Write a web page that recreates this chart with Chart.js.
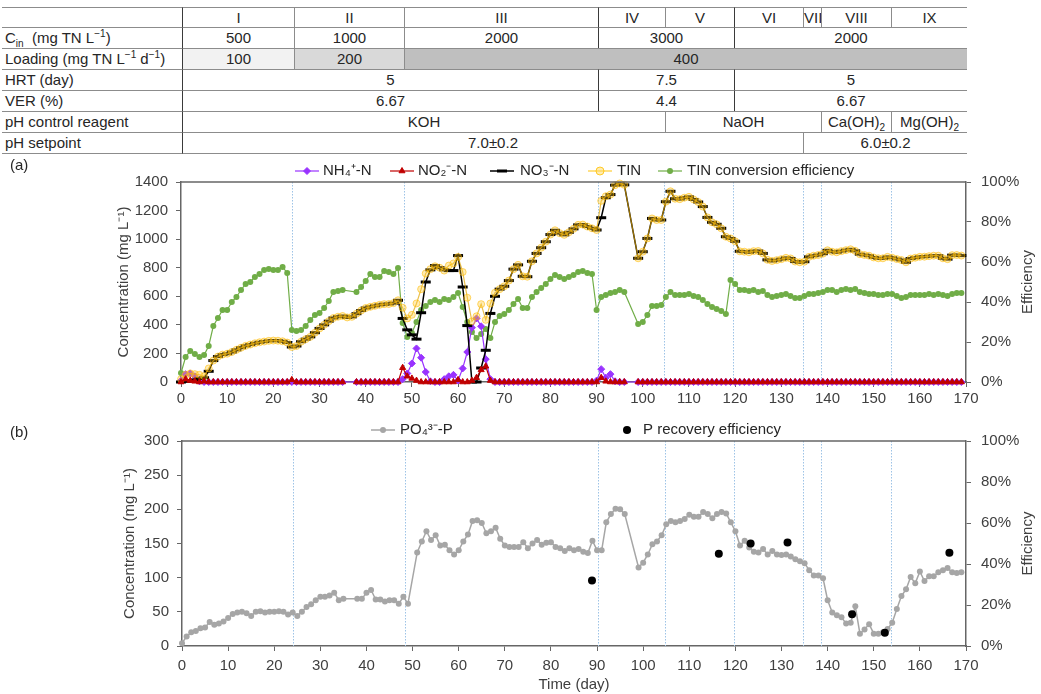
<!DOCTYPE html>
<html>
<head>
<meta charset="utf-8">
<script src="https://cdn.jsdelivr.net/npm/chart.js@4.4.1/dist/chart.umd.min.js"></script>
<style>
  body { margin: 0; width: 1041px; height: 694px; background: #fff; position: relative; overflow: hidden;
         font-family: "Liberation Sans", Arial, sans-serif; color: #262626; }
  .cell { position: absolute; box-sizing: border-box; font-size: 15px; text-align: center; white-space: nowrap;
          border-top: 1px solid #8c8c8c; }
  .cell sub, .cell sup { font-size: 10px; line-height: 0; }
  .lbl { text-align: left; padding-left: 3px; }
  canvas { position: absolute; left: 0; }
  #chartA { top: 160px; }
  #chartB { top: 415px; }
  .tag { position: absolute; left: 10px; font-size: 15px; line-height: 17px; }
</style>
</head>
<body>
<div id="table"></div>
<canvas id="chartA" width="1041" height="250"></canvas>
<canvas id="chartB" width="1041" height="279"></canvas>
<div class="tag" style="top:156px">(a)</div>
<div class="tag" style="top:423px">(b)</div>
<script>
// ---- table ----
const colX = [2, 182, 294, 404, 598, 665, 734, 803, 821, 891, 967];
const rowTop = [7, 27, 48, 69, 90, 111, 132, 153];
const rowLabels = ['', 'C<sub>in</sub>&nbsp; (mg TN L<sup>\u22121</sup>)', 'Loading (mg TN L<sup>\u22121</sup> d<sup>\u22121</sup>)',
                   'HRT (day)', 'VER (%)', 'pH control reagent', 'pH setpoint'];
const phaseNames = ['I', 'II', 'III', 'IV', 'V', 'VI', 'VII', 'VIII', 'IX'];
// [row, first column, end column, text, background]
const tableCells = [
  [1, 1, 2, '500'], [1, 2, 3, '1000'], [1, 3, 4, '2000'], [1, 4, 6, '3000'], [1, 6, 10, '2000'],
  [2, 1, 2, '100', '#f2f2f2'], [2, 2, 3, '200', '#d9d9d9'], [2, 3, 10, '400', '#bfbfbf'],
  [3, 1, 4, '5'], [3, 4, 6, '7.5'], [3, 6, 10, '5'],
  [4, 1, 4, '6.67'], [4, 4, 6, '4.4'], [4, 6, 10, '6.67'],
  [5, 1, 5, 'KOH'], [5, 5, 8, 'NaOH'], [5, 8, 9, 'Ca(OH)<sub>2</sub>'], [5, 9, 10, 'Mg(OH)<sub>2</sub>'],
  [6, 1, 7, '7.0\u00b10.2'], [6, 7, 10, '6.0\u00b10.2']
];
phaseNames.forEach((p, i) => tableCells.push([0, i + 1, i + 2, p]));
rowLabels.forEach((t, r) => tableCells.push([r, 0, 1, t]));

const table = document.getElementById('table');
tableCells.forEach(([r, c0, c1, html, bg]) => {
  const d = document.createElement('div');
  d.className = 'cell' + (c0 === 0 ? ' lbl' : '');
  const h = rowTop[r + 1] - rowTop[r];
  d.style.left = colX[c0] + 'px';
  d.style.top = rowTop[r] + 'px';
  d.style.width = (colX[c1] - colX[c0]) + 'px';
  d.style.height = (h + (r === 6 ? 1 : 0)) + 'px';
  d.style.lineHeight = (h - 1) + 'px';
  if (r === 6) d.style.borderBottom = '1px solid #8c8c8c';
  if (c0 > 0) {
    const dark = c0 === 1 || (r <= 4 && (colX[c0] === 598 || colX[c0] === 734));
    d.style.borderLeft = dark ? '1.5px solid #3a3a3a' : '1px solid #8c8c8c';
  }
  if (bg) d.style.background = bg;
  d.innerHTML = html;
  table.appendChild(d);
});

// ---- data ----
// panel (a): one value per day, index = day
const nh4 = [
  10, 55, 60, 40, 5, 0, 0, 0, 0, 0,
  0, 0, 0, 0, 0, 0, 0, 0, 0, 0,
  0, 0, 0, 0, 0, 0, 0, 0, 0, 0,
  0, 0, 0, 0, 0, 0, null, null, 0, 0,
  0, 0, 0, 0, 0, 0, 0, 0, 20, 60,
  130, 235, 170, 70, 5, 0, 0, 20, 40, 50,
  10, 95, 210, 380, 445, 390, 160, 20, 0, 0,
  0, 0, 0, 0, 0, 0, 0, 0, 0, 0,
  0, 0, 0, 0, 0, 0, 0, 0, 0, 0,
  10, 90, 30, 55, 5, 0, 0, null, null, 0,
  0, 0, 0, 0, 0, 0, 0, 0, 0, 0,
  0, 0, 0, 0, 0, 0, 0, 0, 0, 0,
  0, 0, 0, 0, 0, 0, 0, 0, 0, 0,
  0, 0, 0, 0, 0, 0, 0, 0, 0, 0,
  0, 0, 0, 0, 0, 0, 0, 0, 0, 0,
  0, 0, 0, 0, 0, 0, 0, 0, 0, 0,
  0, 0, 0, 0, 0, 0, 0, 0, 0, 0
];
const no2 = [
  0, 20, 10, 5, 0, 5, 0, 0, 0, 0,
  0, 0, 0, 0, 0, 0, 0, 0, 0, 0,
  0, 0, 0, 0, 15, 0, 0, 0, 0, 0,
  0, 0, 0, 0, 0, 0, null, null, 0, 0,
  0, 0, 0, 0, 0, 0, 0, 0, 100, 40,
  25, 10, 0, 0, 0, 0, 0, 0, 0, 0,
  15, 0, 0, 10, 30, 85, 110, 10, 0, 0,
  0, 0, 0, 0, 0, 0, 0, 0, 0, 0,
  0, 0, 0, 0, 0, 0, 0, 0, 0, 0,
  0, 30, 5, 0, 0, 0, 0, null, null, 0,
  0, 0, 0, 0, 0, 0, 0, 0, 0, 0,
  0, 0, 0, 0, 0, 0, 0, 0, 0, 0,
  0, 0, 0, 0, 0, 0, 0, 0, 0, 0,
  0, 0, 0, 0, 0, 0, 0, 0, 0, 0,
  0, 0, 0, 0, 0, 0, 0, 0, 0, 0,
  0, 0, 0, 0, 0, 0, 0, 0, 0, 0,
  0, 0, 0, 0, 0, 0, 0, 0, 0, 0
];
const no3 = [
  0, 5, 8, 15, 25, 30, 75, 150, 178, 192,
  198, 210, 225, 240, 253, 262, 271, 278, 283, 288,
  290, 289, 285, 276, 245, 252, 282, 300, 316, 345,
  375, 400, 426, 448, 457, 462, 452, 456, 478, 500,
  518, 526, 533, 540, 545, 546, 552, 572, 445, 365,
  330, 300, 485, 700, 785, 815, 800, 785, 780, 780,
  885, 665, 395, 0, 0, 98, 222, 480, 600, 650,
  670, 710, 790, 820, 740, 737, 845, 900, 940, 982,
  1032, 1062, 1042, 1030, 1048, 1072, 1100, 1102, 1088, 1076,
  1064, 1150, 1290, 1312, 1378, 1390, 1380, null, null, 866,
  912, 1005, 1145, 1134, 1134, 1262, 1335, 1283, 1280, 1290,
  1296, 1278, 1260, 1228, 1152, 1118, 1104, 1076, 1017, 1005,
  985, 915, 912, 908, 916, 917, 900, 855, 847, 853,
  860, 869, 865, 843, 838, 842, 876, 884, 889, 898,
  922, 912, 908, 916, 923, 929, 918, 895, 889, 884,
  872, 866, 866, 876, 870, 861, 854, 838, 864, 870,
  876, 877, 881, 884, 884, 866, 860, 888, 889, 885
];
const tin = [
  20, 50, 60, 55, 50, 40, 95, 150, 178, 192,
  198, 210, 225, 240, 253, 262, 271, 278, 283, 288,
  290, 289, 285, 276, 245, 252, 282, 300, 316, 345,
  375, 400, 426, 448, 457, 462, 452, 456, 478, 500,
  518, 526, 533, 540, 545, 546, 552, 572, 520, 445,
  470, 550, 650, 760, 790, 810, 800, 780, 815, 830,
  875, 770, 590, 425, 460, 545, 435, 550, 625, 650,
  670, 710, 790, 820, 740, 737, 845, 900, 940, 982,
  1032, 1062, 1042, 1030, 1048, 1072, 1100, 1102, 1088, 1076,
  1064, 1268, 1300, 1312, 1378, 1390, 1380, null, null, 866,
  912, 1005, 1145, 1134, 1134, 1262, 1335, 1283, 1280, 1290,
  1296, 1278, 1260, 1228, 1152, 1118, 1104, 1076, 1017, 1005,
  985, 915, 912, 908, 916, 917, 900, 855, 847, 853,
  860, 869, 865, 843, 838, 842, 876, 884, 889, 898,
  922, 912, 908, 916, 923, 929, 918, 895, 889, 884,
  872, 866, 866, 876, 870, 861, 854, 838, 864, 870,
  876, 877, 881, 884, 884, 866, 860, 888, 889, 885
];
// TIN conversion efficiency, %
const tinEff = [
  4.5, 12.5, 15.5, 14, 12.5, 13.5, 18, 28, 32, 36,
  36, 40, 42.5, 46, 49, 50, 52.5, 54, 56, 56.5,
  56, 56, 57.5, 54.5, 26, 25.5, 26, 28, 31, 33.5,
  34.5, 37, 40.5, 45, 45.5, 46, null, null, 45, 47.5,
  50.5, 54, 52.5, 52.5, 55.5, 55, 54, 57, 29.5, 22.5,
  24.5, 30, 36, 38, 40, 41, 40, 41.5, 41, 42.5,
  44.5, 37.5, 30, 25, 22, 24, 26.5, 22, 30, 33,
  34, 36, 39, 41.5, 37, 37, 42.5, 45, 47, 49,
  51.5, 53.5, 52.5, 51.5, 52.5, 53.5, 55, 55.5, 54.5, 54,
  36, 42.5, 43.5, 44.5, 45, 46, 45, null, null, 29,
  30, 33.5, 38, 38, 38.5, 42.5, 45, 43.5, 43.5, 43.5,
  44, 43, 42.5, 41, 39, 37.5, 36.5, 35.5, 34, 51,
  49, 46, 46, 45.5, 46, 45, 45.5, 43.5, 42.5, 43,
  43.5, 44, 43, 42, 42, 43, 44, 44, 44.5, 45,
  46, 46, 45, 46, 46.5, 46, 46.5, 45, 44.5, 44,
  44, 43.5, 43.5, 44, 44, 43, 42, 42.5, 43.5, 43.5,
  43.5, 43.5, 44, 43.5, 44, 43.5, 43, 44, 44.5, 44.5
];
// panel (b)
const po4 = [
  4, 14, 20, 22, 26, 27, 35, 31, 33, 36,
  41, 47, 49, 50, 48, 44, 50, 51, 49, 50,
  50, 51, 50, 46, 49, 44, 50, 57, 61, 67,
  72, 72, 74, 78, 67, 69, null, null, 69, 69,
  78, 82, 68, 68, 65, 67, 67, 62, 72, 62,
  null, 137, 153, 168, 155, 162, 147, 148, 140, 134,
  140, 153, 163, 183, 184, 180, 165, 168, 173, 157,
  147, 145, 145, 145, 152, 143, 150, 155, 148, 151,
  152, 145, 143, 139, 143, 140, 142, 138, 136, 154,
  140, 140, 181, 193, 201, 200, 193, null, null, 115,
  122, 134, 149, 153, 162, 178, 183, 181, 183, 186,
  192, 189, 189, 196, 193, 187, 193, 196, 194, 181,
  168, 147, 154, 144, 138, 137, 142, 134, 139, 134,
  133, 134, 131, 127, 124, 121, 111, 103, 103, 99,
  67, 49, 45, 42, 33, 34, 58, 18, 24, 32,
  18, 18, 20, 25, 34, 54, 73, 83, 101, 92,
  109, 95, 102, 102, 108, 111, 114, 108, 107, 108
];
const pRecDays = [88.9, 116.4, 123.3, 131.3, 145.3, 152.4, 166.4];
const pRecEff = [32, 45, 50, 50.5, 15.5, 6.5, 45.5];

// day boundaries of the operating phases
const phaseDays = [24.1, 48.3, 90.2, 104.7, 119.6, 134.6, 138.6, 153.7];

// ---- chart helpers ----
const FONT = '"Liberation Sans", Arial, sans-serif';
Chart.defaults.font.family = FONT;
Chart.defaults.font.size = 15;
Chart.defaults.color = '#404040';

const toXY = arr => arr.map((v, i) => ({ x: i, y: v }));

const phaseLines = {
  id: 'phaseLines',
  beforeDatasetsDraw(chart) {
    const { ctx, chartArea: a, scales: { x } } = chart;
    ctx.save();
    ctx.strokeStyle = '#9dc3e6';
    ctx.lineWidth = 1;
    ctx.setLineDash([1.5, 1.5]);
    phaseDays.forEach(d => {
      const px = Math.round(x.getPixelForValue(d)) + 0.5;
      ctx.beginPath();
      ctx.moveTo(px, a.top);
      ctx.lineTo(px, a.bottom);
      ctx.stroke();
    });
    ctx.restore();
  },
  afterDraw(chart) {
    const { ctx, chartArea: a } = chart;
    ctx.save();
    ctx.strokeStyle = '#666';
    ctx.lineWidth = 1.5;
    ctx.beginPath();
    ctx.moveTo(a.left, a.top);
    ctx.lineTo(a.right, a.top);
    ctx.stroke();
    // right axis title, reads bottom to top
    ctx.translate(1028, (a.top + a.bottom) / 2);
    ctx.rotate(-Math.PI / 2);
    ctx.font = '15px ' + FONT;
    ctx.fillStyle = '#404040';
    ctx.textAlign = 'center';
    ctx.textBaseline = 'middle';
    ctx.fillText('Efficiency', 0, 0);
    ctx.restore();
  }
};

const legendAt = {
  id: 'legendAt',
  afterDraw(chart, args, opts) {
    const ctx = chart.ctx;
    ctx.save();
    ctx.font = '15px ' + FONT;
    ctx.textBaseline = 'middle';
    opts.items.forEach(it => {
      if (it.line) {
        ctx.strokeStyle = it.line;
        ctx.lineWidth = it.lw || 1.2;
        ctx.beginPath();
        ctx.moveTo(it.x - 12, it.y);
        ctx.lineTo(it.x + 12, it.y);
        ctx.stroke();
      }
      ctx.fillStyle = it.fill;
      ctx.strokeStyle = it.stroke;
      ctx.lineWidth = it.bw;
      Chart.helpers.drawPoint(ctx, { pointStyle: it.style, radius: it.r, borderWidth: it.bw, rotation: 0 }, it.x, it.y);
      ctx.fillStyle = '#262626';
      ctx.fillText(it.text, it.tx, it.y);
    });
    ctx.restore();
  }
};

function baseScales(yMax, yStep, yWidth, yTitlePad, xHeight, xPad, xTitle) {
  const axisLine = { display: true, color: '#666', width: 1.5 };
  const ticksOut = { display: true, drawOnChartArea: false, drawTicks: true, tickLength: 5, color: '#666' };
  return {
    x: {
      type: 'linear', min: 0, max: 170,
      ticks: { stepSize: 10, padding: xPad, callback: v => String(v) },
      border: axisLine, grid: ticksOut,
      title: xTitle ? { display: true, text: xTitle, color: '#404040', padding: { top: 0, bottom: 0 } } : { display: false },
      afterFit: s => { s.height = xHeight; }
    },
    y: {
      position: 'left', min: 0, max: yMax,
      ticks: { stepSize: yStep, padding: 8, callback: v => String(v) },
      border: axisLine, grid: ticksOut,
      title: { display: true, text: 'Concentration (mg L\u207B\u00B9)', color: '#404040', padding: { top: yTitlePad, bottom: 0 } },
      afterFit: s => { s.width = yWidth; }
    },
    y1: {
      position: 'right', min: 0, max: 100,
      ticks: { stepSize: 20, padding: 10, callback: v => v + '%' },
      border: axisLine, grid: ticksOut,
      afterFit: s => { s.width = 75; }
    }
  };
}

// ---- chart (a) ----
new Chart(document.getElementById('chartA'), {
  type: 'line',
  data: {
    datasets: [
      { label: 'NH4+-N', data: toXY(nh4), yAxisID: 'y', borderColor: '#9933ff', backgroundColor: '#9933ff',
        borderWidth: 1.2, pointStyle: 'rectRot', pointRadius: 3.5, pointBorderWidth: 1, spanGaps: true, order: 4, clip: false },
      { label: 'NO2--N', data: toXY(no2), yAxisID: 'y', borderColor: '#c00000', backgroundColor: '#c00000',
        borderWidth: 1.2, pointStyle: 'triangle', pointRadius: 3.5, pointBorderWidth: 1, spanGaps: false, order: 1, clip: false },
      { label: 'NO3--N', data: toXY(no3), yAxisID: 'y', borderColor: '#000', backgroundColor: '#000',
        borderWidth: 1.5, pointStyle: 'line', pointRadius: 5, pointBorderWidth: 3, spanGaps: true, order: 3, clip: false },
      { label: 'TIN', data: toXY(tin), yAxisID: 'y', borderColor: 'rgba(225,165,0,0.7)',
        borderWidth: 1.2, pointStyle: 'circle', pointRadius: 3.5, pointBackgroundColor: 'rgba(255,200,40,0.35)',
        pointBorderColor: 'rgba(255,185,0,0.55)', pointBorderWidth: 1, spanGaps: true, order: 2, clip: false },
      { label: 'TIN conversion efficiency', data: toXY(tinEff), yAxisID: 'y1', borderColor: '#70ad47', backgroundColor: '#70ad47',
        borderWidth: 1.2, pointStyle: 'circle', pointRadius: 3, pointBorderWidth: 0, spanGaps: true, order: 5, clip: false }
    ]
  },
  options: {
    responsive: false, animation: false, events: [],
    layout: { padding: { top: 22, left: 113, right: 0, bottom: 0 } },
    scales: baseScales(1400, 200, 68, 2, 28, 3, null),
    plugins: {
      legend: { display: false }, tooltip: { enabled: false },
      legendAt: { items: [
        { x: 307, tx: 323, y: 11, text: 'NH\u2084\u207A-N', line: '#9933ff', fill: '#9933ff', stroke: '#9933ff', style: 'rectRot', r: 3.5, bw: 1 },
        { x: 402, tx: 418, y: 11, text: 'NO\u2082\u207B-N', line: '#c00000', fill: '#c00000', stroke: '#c00000', style: 'triangle', r: 3.5, bw: 1 },
        { x: 502, tx: 520, y: 11, text: 'NO\u2083\u207B-N', line: '#000', lw: 1.5, fill: '#000', stroke: '#000', style: 'line', r: 5, bw: 3 },
        { x: 600, tx: 617, y: 11, text: 'TIN', line: 'rgba(255,192,0,0.8)', fill: 'rgba(255,217,102,0.5)', stroke: 'rgba(255,192,0,0.8)', style: 'circle', r: 4, bw: 1 },
        { x: 670, tx: 687, y: 11, text: 'TIN conversion efficiency', line: '#70ad47', fill: '#70ad47', stroke: '#70ad47', style: 'circle', r: 3, bw: 0 }
      ] }
    }
  },
  plugins: [phaseLines, legendAt]
});

// ---- chart (b) ----
new Chart(document.getElementById('chartB'), {
  type: 'line',
  data: {
    datasets: [
      { label: 'PO43--P', data: toXY(po4), yAxisID: 'y', borderColor: '#a6a6a6', backgroundColor: '#a6a6a6',
        borderWidth: 1.5, pointStyle: 'circle', pointRadius: 3, pointBorderWidth: 0, spanGaps: true, order: 2, clip: false },
      { label: 'P recovery efficiency', data: pRecDays.map((d, i) => ({ x: d, y: pRecEff[i] })), yAxisID: 'y1',
        showLine: false, borderColor: '#000', backgroundColor: '#000', pointStyle: 'circle', pointRadius: 4,
        pointBorderWidth: 0, order: 1, clip: false }
    ]
  },
  options: {
    responsive: false, animation: false, events: [],
    layout: { padding: { top: 26, left: 119, right: 0, bottom: 0 } },
    scales: baseScales(300, 50, 63, 2, 48, 6, 'Time (day)'),
    plugins: {
      legend: { display: false }, tooltip: { enabled: false },
      legendAt: { items: [
        { x: 383, tx: 400, y: 15, text: 'PO\u2084\u00B3\u207B-P', line: '#a6a6a6', lw: 1.5, fill: '#a6a6a6', stroke: '#a6a6a6', style: 'circle', r: 3, bw: 0 },
        { x: 627, tx: 643, y: 15, text: 'P recovery efficiency', line: null, fill: '#000', stroke: '#000', style: 'circle', r: 4, bw: 0 }
      ] }
    }
  },
  plugins: [phaseLines, legendAt]
});
</script>
</body>
</html>
